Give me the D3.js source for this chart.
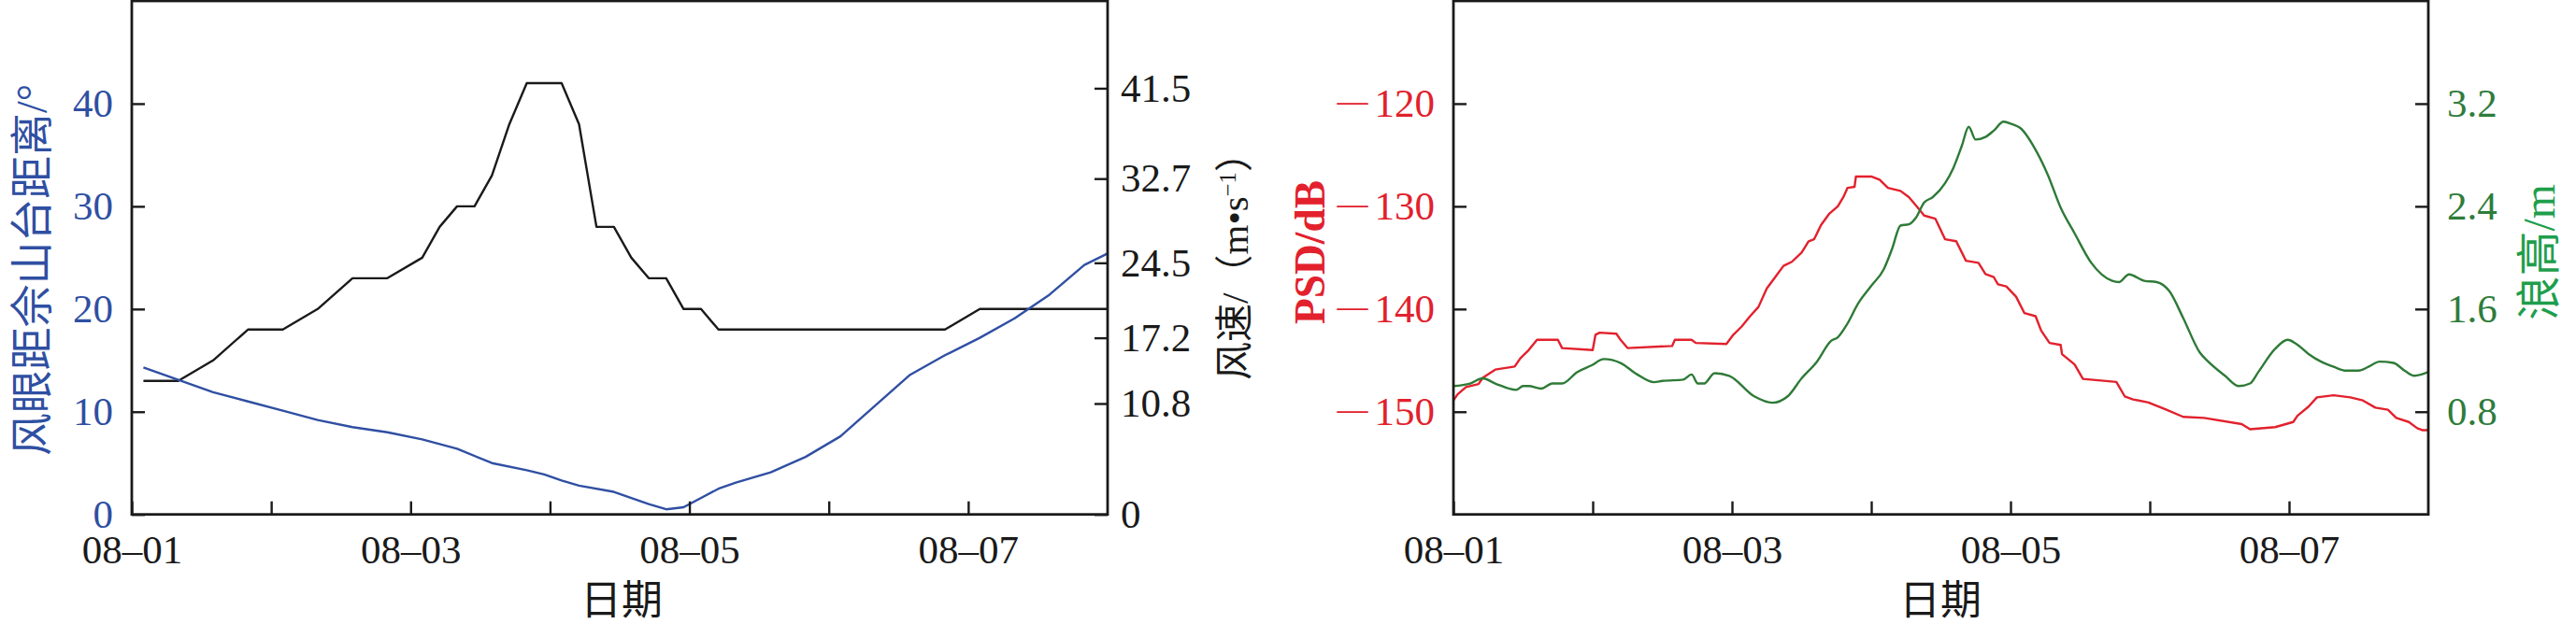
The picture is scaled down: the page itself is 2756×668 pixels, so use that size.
<!DOCTYPE html>
<html>
<head>
<meta charset="utf-8">
<script src="https://cdn.jsdelivr.net/npm/d3@7"></script>
<style>
  html, body { margin: 0; padding: 0; background: #fff; }
  svg { display: block; }
  text { font-family: "Liberation Serif", "Noto Sans CJK SC", serif; }
</style>
</head>
<body>
<svg id="chart" width="2756" height="668"></svg>
<script>
// ---------- data ----------
// left panel: hours since 08-01 00:00
const windHours = [2, 8, 14, 20, 26, 32, 38, 44, 50, 53, 56, 59, 62, 65, 68, 71, 74, 77, 80, 83, 86, 89, 92, 95, 98, 101, 140, 146, 168];
const windSpeed = [13, 13, 15, 18, 18, 20, 23, 23, 25, 28, 30, 30, 33, 38, 42, 42, 42, 38, 28, 28, 25, 23, 23, 20, 20, 18, 18, 20, 20];

const distHours = [2, 8, 14, 20, 26, 32, 38, 44, 50, 56, 62, 68, 71, 74, 77, 83, 86, 89, 92, 95, 101, 104, 110, 116, 122, 128, 134, 140, 146, 152, 158, 164, 168];
const distDeg = [14.3, 13.1, 11.9, 11.0, 10.1, 9.2, 8.5, 8.0, 7.3, 6.4, 5.0, 4.3, 3.9, 3.3, 2.8, 2.2, 1.6, 1.0, 0.5, 0.7, 2.5, 3.1, 4.1, 5.6, 7.6, 10.6, 13.6, 15.5, 17.2, 19.1, 21.4, 24.3, 25.4];

// right panel: days since 08-01 00:00
const psdDay = [0.0, 0.03, 0.09, 0.18, 0.21, 0.30, 0.44, 0.48, 0.54, 0.60, 0.75, 0.78, 1.00, 1.02, 1.05, 1.17, 1.20, 1.25, 1.57, 1.59, 1.71, 1.74, 1.96, 2.01, 2.07, 2.13, 2.19, 2.25, 2.31, 2.37, 2.43, 2.50, 2.55, 2.59, 2.64, 2.70, 2.76, 2.80, 2.83, 2.88, 2.89, 3.00, 3.06, 3.12, 3.21, 3.27, 3.32, 3.38, 3.46, 3.53, 3.61, 3.68, 3.77, 3.82, 3.88, 3.91, 3.97, 4.04, 4.10, 4.18, 4.22, 4.28, 4.36, 4.37, 4.46, 4.52, 4.76, 4.82, 4.88, 4.99, 5.12, 5.24, 5.39, 5.66, 5.72, 5.90, 6.03, 6.06, 6.14, 6.20, 6.32, 6.44, 6.53, 6.62, 6.71, 6.77, 6.86, 6.92, 6.96, 7.00];
const psdDb = [-148.9, -148.3, -147.6, -147.3, -146.7, -145.9, -145.6, -144.8, -144.0, -143.0, -143.0, -143.8, -144.0, -142.5, -142.3, -142.4, -143.0, -143.8, -143.6, -143.0, -143.0, -143.3, -143.4, -142.5, -141.7, -140.7, -139.8, -138.0, -136.9, -135.8, -135.4, -134.5, -133.4, -133.2, -131.8, -130.7, -130.0, -129.1, -128.2, -128.1, -127.1, -127.1, -127.4, -128.2, -128.5, -129.1, -129.9, -130.9, -131.2, -133.2, -133.4, -135.3, -135.5, -136.6, -136.9, -137.6, -137.8, -138.8, -140.4, -140.7, -142.1, -143.3, -143.5, -144.4, -145.4, -146.8, -147.1, -148.5, -148.8, -149.1, -149.8, -150.5, -150.6, -151.2, -151.7, -151.5, -151.0, -150.4, -149.5, -148.6, -148.4, -148.6, -148.9, -149.6, -149.8, -150.6, -151.0, -151.6, -151.8, -151.8];

const waveDay = [0.00, 0.12, 0.21, 0.30, 0.45, 0.50, 0.54, 0.63, 0.71, 0.78, 0.89, 0.99, 1.08, 1.20, 1.32, 1.44, 1.50, 1.65, 1.71, 1.755, 1.80, 1.875, 1.98, 2.16, 2.29, 2.40, 2.50, 2.61, 2.71, 2.76, 2.82, 2.91, 3.00, 3.09, 3.15, 3.21, 3.27, 3.32, 3.38, 3.44, 3.53, 3.59, 3.65, 3.70, 3.75, 3.82, 3.88, 3.95, 4.01, 4.07, 4.19, 4.27, 4.36, 4.46, 4.58, 4.73, 4.78, 4.85, 4.96, 5.05, 5.14, 5.24, 5.36, 5.42, 5.54, 5.64, 5.72, 5.78, 5.90, 5.99, 6.05, 6.14, 6.23, 6.32, 6.41, 6.50, 6.57, 6.65, 6.75, 6.83, 6.90, 6.95, 7.00];
const waveM = [1.00, 1.02, 1.06, 1.02, 0.97, 1.00, 1.00, 0.98, 1.02, 1.02, 1.11, 1.16, 1.21, 1.18, 1.09, 1.03, 1.04, 1.05, 1.09, 1.02, 1.02, 1.10, 1.08, 0.92, 0.87, 0.92, 1.06, 1.19, 1.35, 1.38, 1.47, 1.65, 1.78, 1.91, 2.07, 2.25, 2.26, 2.31, 2.43, 2.47, 2.58, 2.70, 2.87, 3.02, 2.92, 2.94, 2.99, 3.06, 3.04, 3.01, 2.82, 2.64, 2.39, 2.19, 1.96, 1.82, 1.81, 1.87, 1.82, 1.81, 1.74, 1.53, 1.26, 1.19, 1.08, 1.00, 1.02, 1.11, 1.29, 1.36, 1.33, 1.25, 1.19, 1.15, 1.12, 1.12, 1.15, 1.19, 1.18, 1.12, 1.08, 1.09, 1.11];

// tick values
const distTicks = [0, 10, 20, 30, 40];
const windTicks = [0, 10.8, 17.2, 24.5, 32.7, 41.5];
const psdTicks = [-150, -140, -130, -120];
const waveTicks = [0.8, 1.6, 2.4, 3.2];

// ---------- layout / style ----------
const C = {
  blue: "#2f4fa2", black: "#1a1a1a", red: "#e2212d",
  green: "#2e7a37", greenLabel: "#2f7c3b", greenTitle: "#1e9e4c"
};
const FS = 43, TICK = 14;
const yTop = 1, yBot = 550.7;
const P1 = {l: 141, r: 1185};
const P2 = {l: 1555, r: 2598};

const svg = d3.select("#chart");
svg.append("rect").attr("width", 2756).attr("height", 668).attr("fill", "#fff");

const base = new Date(2020, 7, 1, 0, 0, 0);
const hourDate = h => d3.timeHour.offset(base, h);
const dayDate = d => new Date(base.getTime() + d * 86400000);
const endDate = d3.timeDay.offset(base, 7);

function styleAxis(g, color) {
  g.select(".domain").remove();
  g.attr("font-family", null);
  g.selectAll(".tick line").attr("stroke", C.black).attr("stroke-width", 2.4);
  g.selectAll(".tick text").attr("fill", color).attr("font-size", FS);
}

function xAxis(x) {
  const g = svg.append("g").attr("transform", `translate(0,${yBot})`)
    .call(d3.axisBottom(x).ticks(d3.timeDay.every(1)).tickSize(-TICK).tickSizeOuter(0).tickPadding(22)
      .tickFormat(d => (d.getDate() % 2 === 1) ? d3.timeFormat("%m")(d) + "\u2013" + d3.timeFormat("%d")(d) : ""));
  styleAxis(g, C.black);
  g.selectAll(".tick").filter(d => +d === +endDate).select("line").remove();
}

function frame(p) {
  svg.append("rect").attr("x", p.l).attr("y", yTop).attr("width", p.r - p.l).attr("height", yBot - yTop)
    .attr("fill", "none").attr("stroke", C.black).attr("stroke-width", 2.8);
}

// vertical (rotated) title, fitted to a target length and centred on (cx, cy)
function vTitle(cx, cy, color, parts, targetLen, weight) {
  const g = svg.append("g").attr("transform", `translate(${cx},${cy}) rotate(-90)`);
  const t = g.append("text").attr("fill", color).attr("font-size", 44)
    .attr("font-weight", weight || "normal");
  parts.forEach(p => {
    const s = t.append("tspan").text(p.t);
    if (p.sup) s.attr("font-size", "0.6em").attr("baseline-shift", "super");
  });
  let bb = t.node().getBBox();
  const fs = 44 * targetLen / bb.width;
  t.attr("font-size", fs);
  bb = t.node().getBBox();
  t.attr("x", -(bb.x + bb.width / 2)).attr("y", -(bb.y + bb.height / 2));
}

function hTitle(cx, baseline, txt) {
  svg.append("text").attr("x", cx).attr("y", baseline).attr("text-anchor", "middle")
    .attr("font-size", 44).attr("fill", C.black).text(txt);
}

// ---------- left panel ----------
const x1 = d3.scaleTime().domain([base, endDate]).range([P1.l, P1.r]);
const yDist = d3.scaleLinear().domain([0, 50]).range([yBot, yTop]);
const yWind = d3.scaleLinear().domain([0, 50]).range([yBot, yTop]);

const windData = windHours.map((h, i) => ({t: hourDate(h), v: windSpeed[i]}));
const distData = distHours.map((h, i) => ({t: hourDate(h), v: distDeg[i]}));

svg.append("path").datum(windData)
  .attr("d", d3.line().x(d => x1(d.t)).y(d => yWind(d.v)))
  .attr("fill", "none").attr("stroke", C.black).attr("stroke-width", 2.4).attr("stroke-linejoin", "round");
svg.append("path").datum(distData)
  .attr("d", d3.line().x(d => x1(d.t)).y(d => yDist(d.v)))
  .attr("fill", "none").attr("stroke", C.blue).attr("stroke-width", 2.4).attr("stroke-linejoin", "round");

const gL1 = svg.append("g").attr("transform", `translate(${P1.l},0)`)
  .call(d3.axisLeft(yDist).tickValues(distTicks).tickSize(-TICK).tickSizeOuter(0).tickPadding(20).tickFormat(d3.format("d")));
styleAxis(gL1, C.blue);
const gR1 = svg.append("g").attr("transform", `translate(${P1.r},0)`)
  .call(d3.axisRight(yWind).tickValues(windTicks).tickSize(-TICK).tickSizeOuter(0).tickPadding(14)
    .tickFormat(d => d === 0 ? "0" : d3.format(".1f")(d)));
styleAxis(gR1, C.black);
xAxis(x1);
frame(P1);

vTitle(34.6, 289, C.blue, [{t: "风眼距佘山台距离/°"}], 398);
vTitle(1320.5, 275, C.black, [{t: "风速/（m•s"}, {t: "−1", sup: true}, {t: "）"}], 264);
hTitle(665, 658, "日期");

// ---------- right panel ----------
const x2 = d3.scaleTime().domain([base, endDate]).range([P2.l, P2.r]);
const yPsd = d3.scaleLinear().domain([-160, -110]).range([yBot, yTop]);
const yWave = d3.scaleLinear().domain([0, 4]).range([yBot, yTop]);

const psdData = psdDay.map((d, i) => ({t: dayDate(d), v: psdDb[i]}));
const waveData = waveDay.map((d, i) => ({t: dayDate(d), v: waveM[i]}));

svg.append("path").datum(psdData)
  .attr("d", d3.line().x(d => x2(d.t)).y(d => yPsd(d.v)))
  .attr("fill", "none").attr("stroke", C.red).attr("stroke-width", 2.4).attr("stroke-linejoin", "round");
svg.append("path").datum(waveData)
  .attr("d", d3.line().curve(d3.curveMonotoneX).x(d => x2(d.t)).y(d => yWave(d.v)))
  .attr("fill", "none").attr("stroke", C.green).attr("stroke-width", 2.4).attr("stroke-linejoin", "round");

const gL2 = svg.append("g").attr("transform", `translate(${P2.l},0)`)
  .call(d3.axisLeft(yPsd).tickValues(psdTicks).tickSize(-TICK).tickSizeOuter(0).tickPadding(20));
styleAxis(gL2, C.red);
gL2.selectAll(".tick text").each(function(d) {
  const t = d3.select(this);
  t.text(null);
  t.append("tspan").attr("font-size", 33).attr("baseline-shift", "6px").text("\u2014");
  t.append("tspan").attr("dx", 7).text(String(Math.abs(d)));
});
const gR2 = svg.append("g").attr("transform", `translate(${P2.r},0)`)
  .call(d3.axisRight(yWave).tickValues(waveTicks).tickSize(-TICK).tickSizeOuter(0).tickPadding(20).tickFormat(d3.format(".1f")));
styleAxis(gR2, C.greenLabel);
xAxis(x2);
frame(P2);

vTitle(1402, 270, C.red, [{t: "PSD/dB"}], 154, "bold");
vTitle(2716, 270, C.greenTitle, [{t: "浪高/m"}], 146);
hTitle(2076, 658, "日期");
</script>
</body>
</html>
